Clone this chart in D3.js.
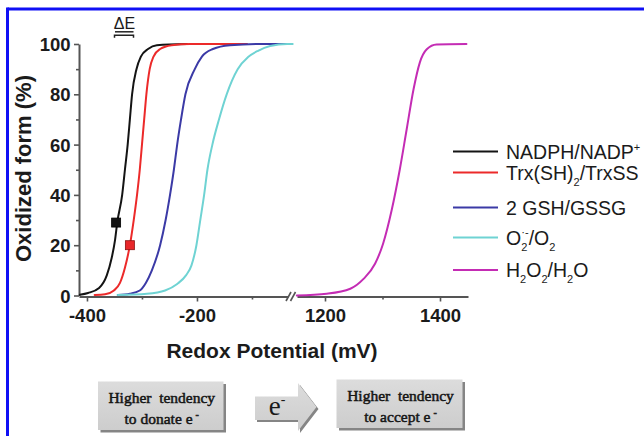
<!DOCTYPE html>
<html><head><meta charset="utf-8">
<script src="https://cdn.jsdelivr.net/npm/d3@7"></script>
<style>html,body{margin:0;padding:0;background:#fff;overflow:hidden}svg{display:block}</style>
</head><body>
<svg id="c" width="644" height="436"></svg>
<script>
// ---------- data ----------
const seriesNames = ["NADPH/NADP+", "Trx(SH)2/TrxSS", "2 GSH/GSSG", "O2-/O2", "H2O2/H2O"];
const seriesColors = ["#141414", "#ec2a2a", "#3b3aa6", "#6fd3d3", "#c42cb4"];
const seriesSegment = [0, 0, 0, 0, 1]; // 0 = low potential segment, 1 = high segment

const nadphE   = [-413,-398,-378,-364,-355,-349,-345,-336,-331,-326,-322,-318,-310,-302,-289,-273,-218];
const nadphPct = [0.3,1,3,8,15,22,29,40,50,60,70,80,90,95,98,99.5,100];

const trxE   = [-386,-367,-351,-340,-331,-322,-315,-309,-304,-300,-296,-292,-286,-279,-267,-246,-213,-109];
const trxPct = [0.2,0.5,2,5,11,20,30,40,50,60,70,80,90,95,98,99.5,100,100];

const gshE   = [-344,-322,-304,-293,-282,-267,-257,-249,-242,-236,-229,-221,-204,-191,-171,-140,-86,-36];
const gshPct = [0.2,0.7,2,5,10,20,30,40,50,60,70,80,90,95,98,99.5,100,100];

const o2E   = [-344,-291,-258,-236,-220,-210,-201,-194,-187,-181,-172,-160,-146,-126,-107,-89,-67,-36,-26];
const o2Pct = [0.2,0.7,2,4.6,8,12,20,30,40,50,60,70,80,90,94.8,97.3,99.2,100,100];

const h2o2E   = [1151,1203,1244,1267,1287,1301,1316,1330,1342,1354,1365,1377,1394,1446];
const h2o2Pct = [0,0.7,2.7,6.6,12.6,20.6,34,50,66,82,92.7,97.9,99.8,100];

const seriesE   = [nadphE, trxE, gshE, o2E, h2o2E];
const seriesPct = [nadphPct, trxPct, gshPct, o2Pct, h2o2Pct];

const markerE = [-347, -322];
const markerPct = [29, 20];
const markerColors = ["#141414", "#e8272a"];

const xTicksLow = [-400, -200];
const xMinorLow = [-300, -100];
const xTicksHigh = [1200, 1400];
const xMinorHigh = [1300];
const yTicks = [0, 20, 40, 60, 80, 100];
const yMinor = [10, 30, 50, 70, 90];

const xTitle = "Redox Potential (mV)";
const yTitle = "Oxidized form (%)";

// legend label parts: [text, kind] kind: n normal, b sub, p sup, q sup stacked over previous sub
const legendParts = [
  [["NADPH/NADP","n"],["+","p"]],
  [["Trx(SH)","n"],["2","b"],["/TrxSS","n"]],
  [["2 GSH/GSSG","n"]],
  [["O","n"],["2","b"],["\u00b7-","q"],["/O","n"],["2","b"]],
  [["H","n"],["2","b"],["O","n"],["2","b"],["/H","n"],["2","b"],["O","n"]]
];
const legendRowY = [151.5, 172.5, 207.5, 237.5, 270];

const boxLines = [["Higher\u00a0\u00a0tendency", "to donate e"], ["Higher\u00a0\u00a0tendency", "to accept e"]];
const arrowLabel = "e";

// ---------- drawing ----------
const svg = d3.select("#c");
const axisColor = "#555555";
const txt = "#1b1b1b";

// blue frame
svg.append("line").attr("x1", 7.5).attr("x2", 644).attr("y1", 9).attr("y2", 9)
  .attr("stroke", "#1010f5").attr("stroke-width", 3);
svg.append("line").attr("x1", 7.5).attr("x2", 7.5).attr("y1", 7.5).attr("y2", 436)
  .attr("stroke", "#1010f5").attr("stroke-width", 3);

const y = d3.scaleLinear().domain([0, 100]).range([295.5, 44]);
const xLow = d3.scaleLinear().domain([-414.5, -34.5]).range([79, 288]);
const xHigh = d3.scaleLinear().domain([1151.3, 1448.7]).range([297, 468]);
const xs = [xLow, xHigh];
const axisY = 296.5;

function styleAxis(g, fs) {
  g.select(".domain").attr("stroke", axisColor).attr("stroke-width", 2);
  g.selectAll(".tick line").attr("stroke", axisColor).attr("stroke-width", 1.6);
  g.selectAll(".tick text").attr("fill", txt).attr("font-family", "Liberation Sans, Arial, sans-serif")
    .attr("font-weight", "bold").attr("font-size", fs);
}

// y axis
const gy = svg.append("g").attr("transform", "translate(79,0)")
  .call(d3.axisLeft(y).tickValues(yTicks).tickSize(5).tickSizeOuter(0).tickPadding(3.5).tickFormat(d => String(d)));
styleAxis(gy, 18.5);
gy.selectAll(".tick text").attr("dy", "0.36em");
const gy2 = svg.append("g").attr("transform", "translate(79,0)")
  .call(d3.axisLeft(y).tickValues(yMinor).tickSize(3).tickSizeOuter(0).tickFormat(""));
styleAxis(gy2, 0);
gy2.select(".domain").remove();

// x axes
function xAxis(scale, major, minor) {
  const g = svg.append("g").attr("transform", `translate(0,${axisY})`)
    .call(d3.axisBottom(scale).tickValues(major).tickSize(5).tickSizeOuter(0).tickPadding(3).tickFormat(d => String(d)));
  styleAxis(g, 18.5);
  g.selectAll(".tick text").attr("dy", "0.95em");
  const g2 = svg.append("g").attr("transform", `translate(0,${axisY})`)
    .call(d3.axisBottom(scale).tickValues(minor).tickSize(3).tickSizeOuter(0).tickFormat(""));
  styleAxis(g2, 0);
  g2.select(".domain").remove();
}
xAxis(xLow, xTicksLow, xMinorLow);
xAxis(xHigh, xTicksHigh, xMinorHigh);

// axis break marks
const brk = svg.append("g").attr("stroke", axisColor).attr("stroke-width", 1.6);
[[286, 291], [290.5, 295.5]].forEach(([a, b]) => {
  brk.append("line").attr("x1", a).attr("y1", axisY + 4.5).attr("x2", b).attr("y2", axisY - 4.5);
});

// curves
const lineGen = (sc) => d3.line().x(d => sc(d[0])).y(d => y(d[1])).curve(d3.curveMonotoneX);
seriesE.forEach((E, i) => {
  const pts = E.map((e, j) => [e, seriesPct[i][j]]);
  svg.append("path").datum(pts).attr("d", lineGen(xs[seriesSegment[i]]))
    .attr("fill", "none").attr("stroke", seriesColors[i]).attr("stroke-width", 2)
    .attr("stroke-linejoin", "round").attr("stroke-linecap", "round");
});

// markers
markerE.forEach((e, i) => {
  svg.append("rect").attr("x", xLow(e) - 4.5).attr("y", y(markerPct[i]) - 4.5)
    .attr("width", 9).attr("height", 9).attr("fill", markerColors[i])
    .attr("stroke", i === 0 ? "#000" : "#8a1010").attr("stroke-width", 0.8);
});

// Delta E annotation
svg.append("text").attr("x", 124.5).attr("y", 29).attr("text-anchor", "middle")
  .attr("font-family", "Liberation Sans, Arial, sans-serif").attr("font-size", 16).attr("fill", txt)
  .text("\u0394E");
svg.append("line").attr("x1", 115).attr("x2", 133.5).attr("y1", 31.8).attr("y2", 31.8)
  .attr("stroke", "#222").attr("stroke-width", 1.5);
svg.append("path").attr("d", "M114.5,37.8V35.2H133.5V37.8").attr("fill", "none")
  .attr("stroke", "#222").attr("stroke-width", 1.5);

// axis titles
svg.append("text").attr("x", 272).attr("y", 357.5).attr("text-anchor", "middle")
  .attr("font-family", "Liberation Sans, Arial, sans-serif").attr("font-weight", "bold")
  .attr("font-size", 21).attr("fill", txt).text(xTitle);
svg.append("text").attr("transform", "translate(30.5,168.5) rotate(-90)").attr("text-anchor", "middle")
  .attr("font-family", "Liberation Sans, Arial, sans-serif").attr("font-weight", "bold")
  .attr("font-size", 22).attr("fill", txt).text(yTitle);

// legend
const leg = svg.append("g");
legendParts.forEach((parts, i) => {
  const yy = legendRowY[i];
  leg.append("line").attr("x1", 453).attr("x2", 498).attr("y1", yy).attr("y2", yy)
    .attr("stroke", seriesColors[i]).attr("stroke-width", 2);
  const t = leg.append("text").attr("x", 506).attr("y", yy + 7)
    .attr("font-family", "Liberation Sans, Arial, sans-serif").attr("font-size", 19.5).attr("fill", txt);
  let off = 0;
  parts.forEach(([s, k]) => {
    const ts = t.append("tspan").text(s);
    let target = 0, dx = 0, fs = 19.5;
    if (k === "b") { target = 6; fs = 11; }
    else if (k === "p") { target = -8; fs = 11; }
    else if (k === "q") { target = -9; fs = 11; dx = -6; }
    ts.attr("dy", target - off).attr("font-size", fs);
    if (dx) ts.attr("dx", dx);
    off = target;
  });
});

// bottom boxes
const defs = svg.append("defs");
const grad = defs.append("linearGradient").attr("id", "bg").attr("x1", 0).attr("y1", 0).attr("x2", 0).attr("y2", 1);
grad.append("stop").attr("offset", "0%").attr("stop-color", "#dcdcdc");
grad.append("stop").attr("offset", "100%").attr("stop-color", "#cdcdcd");

const boxes = [{x: 98, y: 381.5, w: 125.5, h: 48.5}, {x: 336.5, y: 379.5, w: 126, h: 48.5}];
boxes.forEach((b, i) => {
  svg.append("rect").attr("x", b.x + 2.5).attr("y", b.y + 2.5).attr("width", b.w).attr("height", b.h).attr("fill", "#858585");
  svg.append("rect").attr("x", b.x).attr("y", b.y).attr("width", b.w).attr("height", b.h).attr("fill", "url(#bg)");
  const cx = b.x + b.w / 2 + 1;
  const f = "Liberation Serif, Times New Roman, serif";
  svg.append("text").attr("x", cx).attr("y", b.y + 21.5).attr("text-anchor", "middle")
    .attr("font-family", f).attr("font-size", 15.5).attr("fill", "#141414").attr("stroke", "#141414").attr("stroke-width", 0.5)
    .text(boxLines[i][0]);
  const t2 = svg.append("text").attr("x", cx).attr("y", b.y + 42).attr("text-anchor", "middle")
    .attr("font-family", f).attr("font-size", 15.5).attr("fill", "#141414").attr("stroke", "#141414").attr("stroke-width", 0.5);
  t2.append("tspan").text(boxLines[i][1]);
  t2.append("tspan").attr("dx", 3).attr("dy", -6).attr("font-size", 10).text("-");
});

// arrow
const arrowPts = [[255, 396.5], [298, 396.5], [298, 383], [316.5, 407], [298, 431], [298, 420], [255, 420]];
svg.append("polygon").attr("points", arrowPts.map(p => [p[0] + 2, p[1] + 2].join(",")).join(" ")).attr("fill", "#858585");
svg.append("polygon").attr("points", arrowPts.map(p => p.join(",")).join(" ")).attr("fill", "url(#bg)");
const at = svg.append("text").attr("x", 277).attr("y", 414.5).attr("text-anchor", "middle")
  .attr("font-family", "Liberation Serif, Times New Roman, serif").attr("font-size", 27).attr("fill", "#1a1a1a");
at.append("tspan").text(arrowLabel);
at.append("tspan").attr("dy", -11).attr("font-size", 14).text("-");
</script>
</body></html>
